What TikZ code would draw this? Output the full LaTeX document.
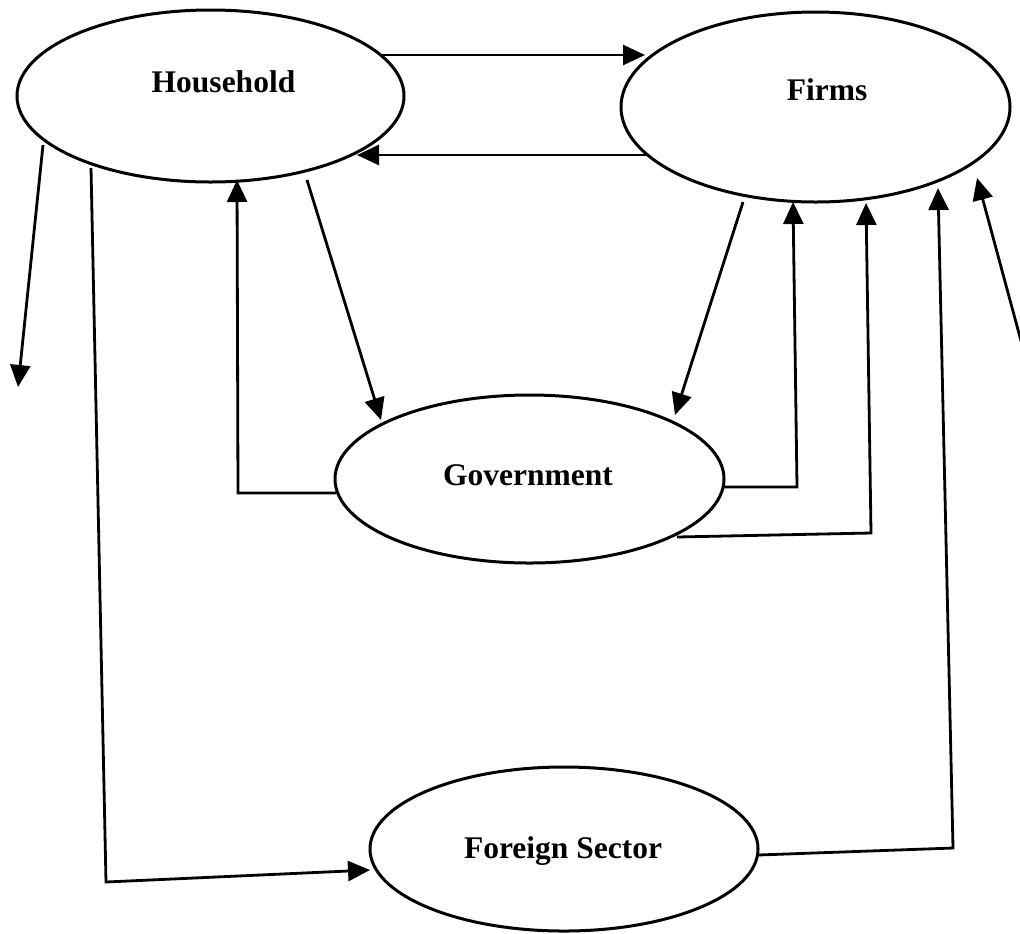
\documentclass[tikz,border=0pt]{standalone}
\usepackage{fontspec}
\setmainfont{Liberation Serif}
\usetikzlibrary{shapes.geometric,arrows.meta}
\begin{document}
\begin{tikzpicture}[x=0.5pt,y=-0.5pt,
  sector/.style={draw=black,line width=1.5pt,ellipse,inner sep=0pt,outer sep=0pt},
  lbl/.style={anchor=base,inner sep=0pt,font=\fontsize{15.75}{18}\selectfont\bfseries},
  flow/.style={draw=black,line width=1.4pt,-{Triangle[length=11pt,width=10pt]}},
  link/.style={draw=black,line width=1.4pt}]
\useasboundingbox (0,0) rectangle (1020,933);
% sectors
\node[sector,minimum width=193.5pt,minimum height=86pt] (hh) at (210.5,96) {};
\node[sector,minimum width=194.5pt,minimum height=95pt] (fi) at (815.5,107) {};
\node[sector,minimum width=194.5pt,minimum height=84pt] (gov) at (529.5,479) {};
\node[sector,minimum width=194pt,minimum height=82pt] (fs) at (564,849) {};
% labels
\node[lbl] (hht) at (223.5,92) {Household};
\node[lbl] (fit) at (827,100) {Firms};
\node[lbl] (govt) at (528,485) {Government};
\node[lbl] (fst) at (563,858) {Foreign Sector};
% free ends and corners
\coordinate (out1) at (18,387);
\coordinate (in1) at (1024,352);
\coordinate (c1) at (106,882);
\coordinate (c2) at (238,493);
\coordinate (c3) at (797,487);
\coordinate (c4) at (871,533);
\coordinate (c5) at (953,848);
% connectors
\draw[flow] ([shift={(169.5,-41)}]hh.center) -- ([shift={(-170.5,-52)}]fi.center);
\draw[flow] ([shift={(-169.5,48)}]fi.center) -- ([shift={(146.5,59)}]hh.center);
\draw[flow] ([shift={(-167.5,49)}]hh.center) -- (out1);
\draw[flow] ([shift={(-119.5,72)}]hh.center) -- (c1) -- ([shift={(-194,21)}]fs.center);
\draw[flow] ([shift={(96.5,84)}]hh.center) -- ([shift={(-148.5,-59)}]gov.center);
\draw[flow] ([shift={(-193.5,14)}]gov.center) -- (c2) -- ([shift={(26.5,84)}]hh.center);
\draw[flow] ([shift={(-72.5,95)}]fi.center) -- ([shift={(145.5,-64)}]gov.center);
\draw[flow] ([shift={(194.5,8)}]gov.center) -- (c3) -- ([shift={(-22.5,95)}]fi.center);
\draw[flow] ([shift={(147.5,58)}]gov.center) -- (c4) -- ([shift={(50.5,96)}]fi.center);
\draw[flow] ([shift={(194,6)}]fs.center) -- (c5) -- ([shift={(122.5,81)}]fi.center);
\draw[flow] (in1) -- ([shift={(161.5,71)}]fi.center);
\end{tikzpicture}
\end{document}
